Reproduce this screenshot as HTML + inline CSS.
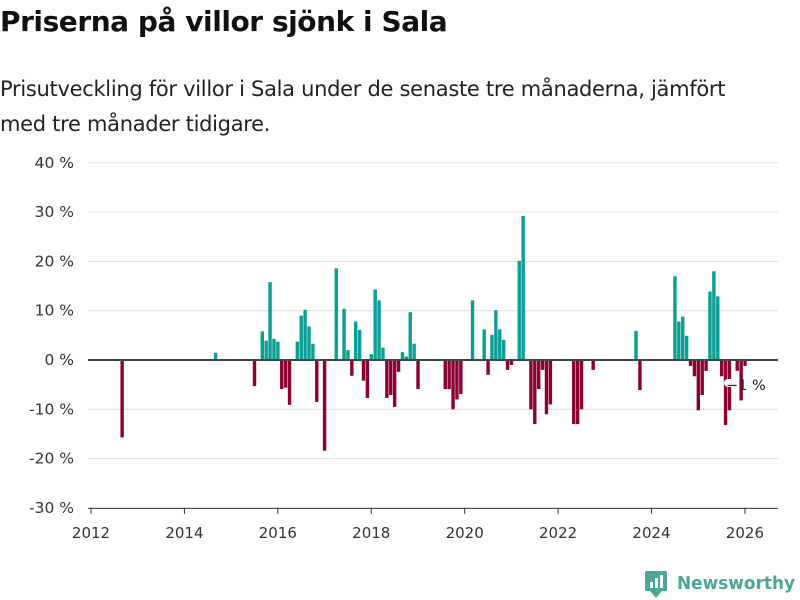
<!DOCTYPE html>
<html><head><meta charset="utf-8"><style>
body{margin:0;width:800px;height:600px;background:#fff;font-family:"Liberation Sans","DejaVu Sans",sans-serif;overflow:hidden;position:relative}
h1{position:absolute;left:0;top:5px;margin:0;font-size:28px;font-weight:bold;color:#111;font-family:"DejaVu Sans","Liberation Sans",sans-serif;letter-spacing:-0.45px}
p{position:absolute;left:0;top:72px;margin:0;font-size:21px;line-height:35px;color:#222;font-family:"DejaVu Sans","Liberation Sans",sans-serif;letter-spacing:-0.3px}
svg{position:absolute;left:0;top:0}
</style></head><body>
<h1>Priserna på villor sjönk i Sala</h1>
<p>Prisutveckling för villor i Sala under de senaste tre månaderna, jämfört<br>med tre månader tidigare.</p>
<svg id="chart" width="800" height="600"></svg>
<script>
const months=[8,32,42,44,45,46,47,48,49,50,51,53,54,55,56,57,58,60,63,65,66,67,68,69,70,71,72,73,74,75,76,77,78,79,80,81,82,83,84,91,92,93,94,95,98,101,102,103,104,105,106,107,108,110,111,113,114,115,116,117,118,124,125,126,129,140,141,150,151,152,153,154,155,156,157,158,159,160,161,162,163,164,166,167,168];
const values=[-15.7,1.5,-5.3,5.8,3.9,15.8,4.3,3.7,-5.9,-5.6,-9.1,3.7,9.0,10.2,6.8,3.3,-8.5,-18.4,18.6,10.4,2.0,-3.2,7.8,6.1,-4.2,-7.7,1.2,14.3,12.1,2.5,-7.7,-7.1,-9.5,-2.4,1.6,0.7,9.7,3.3,-5.9,-5.9,-5.9,-10,-8,-6.9,12.1,6.2,-3,5.1,10.1,6.2,4.1,-2,-1,20.1,29.2,-10,-13,-5.9,-2,-11,-9,-13,-13,-10,-2,5.9,-6.1,17,7.8,8.8,4.9,-1.2,-3.3,-10.2,-7.1,-2.2,13.9,18,12.9,-3.3,-13.2,-10.2,-2.2,-8.2,-1.2];
const yTicks=[-30,-20,-10,0,10,20,30,40];
const xTicks=[2012,2014,2016,2018,2020,2022,2024,2026];
const NS="http://www.w3.org/2000/svg";
const svg=document.getElementById('chart');
const y=v=>360-v*4.93;
const xm=m=>91+m*3.893;
const xy=yr=>91+(yr-2012)*46.71;
function mk(t,a){const e=document.createElementNS(NS,t);for(const k in a)e.setAttribute(k,a[k]);svg.appendChild(e);return e;}
yTicks.forEach(v=>{
 if(v!==0&&v!==-30){const g=mk('line',{x1:88,x2:778,y1:y(v),y2:y(v),stroke:'#e0e0e0','stroke-width':1});
 
 }
 const t=mk('text',{x:74,y:y(v)+5,'text-anchor':'end','font-size':15.5,fill:'#333','font-family':'DejaVu Sans, Liberation Sans, sans-serif'});
 t.textContent=v+' %';
 
 
});
const ax=mk('line',{x1:88,x2:778,y1:y(-30)+0.5,y2:y(-30)+0.5,stroke:'#333','stroke-width':1});


xTicks.forEach(yr=>{
 const l=mk('line',{x1:xy(yr),x2:xy(yr),y1:y(-30),y2:y(-30)+6,stroke:'#333'});
 
 
 const t=mk('text',{x:xy(yr),y:538,'text-anchor':'middle','font-size':15,fill:'#333','font-family':'DejaVu Sans, Liberation Sans, sans-serif'});
 t.textContent=yr;
 
 
});
months.forEach((m,i)=>{
 const v=values[i];
 const r=mk('rect',{x:xm(m)-1.7,width:3.4,y:Math.min(y(v),y(0)),height:Math.abs(y(v)-y(0)),fill:v>=0?'#0a9e94':'#8c0034'});
 
 
});
const z=mk('line',{x1:88,x2:778,y1:y(0),y2:y(0),stroke:'#444','stroke-width':2});


const lb=mk('rect',{x:724,y:379,width:12,height:8,rx:4,fill:'#fff'});


const lt=mk('text',{x:726,y:390,'font-size':14.5,fill:'#222','font-family':'DejaVu Sans, Liberation Sans, sans-serif'});
lt.textContent='−1 %';


</script>
<svg width="800" height="600" style="pointer-events:none">
<rect x="645" y="571" width="22" height="20" rx="2" fill="#4aa79a"/>
<polygon points="650,591 662,591 656,598" fill="#4aa79a"/>
<rect x="650" y="582" width="3" height="6" fill="#fff"/><rect x="655" y="578" width="3" height="10" fill="#fff"/><rect x="660" y="575" width="3" height="13" fill="#fff"/>
<text x="677" y="589" font-size="18" font-weight="bold" fill="#4aa79a" font-family="DejaVu Sans, Liberation Sans, sans-serif" textLength="118" lengthAdjust="spacingAndGlyphs">Newsworthy</text>
</svg>
</body></html>
